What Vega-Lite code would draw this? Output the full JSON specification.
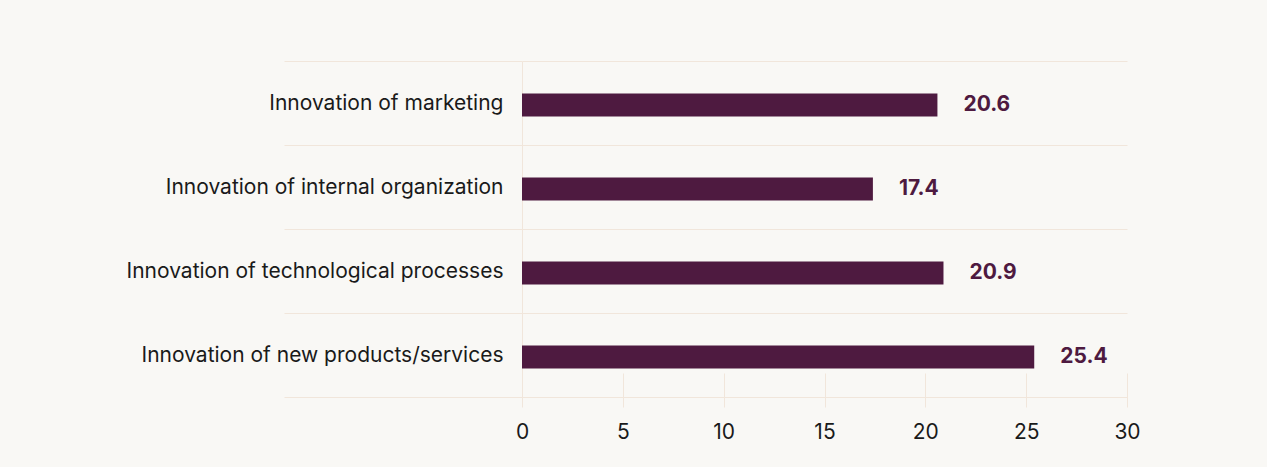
{
  "$schema": "https://vega.github.io/schema/vega-lite/v6.json",
  "width": 605,
  "height": 336,
  "autosize": {"type": "none"},
  "padding": {"left": 522, "top": 61, "right": 140, "bottom": 70},
  "background": "#f9f8f5",
  "config": {"view": {"stroke": null}, "font": "Inter"},
  "data": {
    "values": [
      {"category": "Innovation of marketing", "value": 20.6},
      {"category": "Innovation of internal organization", "value": 17.4},
      {"category": "Innovation of technological processes", "value": 20.9},
      {"category": "Innovation of new products/services", "value": 25.4}
    ]
  },
  "encoding": {
    "y": {
      "field": "category",
      "type": "nominal",
      "sort": null,
      "scale": {"paddingInner": 0, "paddingOuter": 0},
      "axis": {
        "title": null,
        "domain": true,
        "domainColor": "#f1e6db",
        "ticks": true,
        "tickBand": "extent",
        "tickSize": 238,
        "tickColor": "#f1e6db",
        "grid": true,
        "gridColor": "#f1e6db",
        "labelPadding": -219,
        "labelFontSize": 21,
        "labelColor": "#1a1a1a",
        "labelFont": "Inter",
        "labelLimit": 500
      }
    },
    "x": {
      "field": "value",
      "type": "quantitative",
      "scale": {"domain": [0, 30]},
      "axis": {
        "title": null,
        "values": [0, 5, 10, 15, 20, 25, 30],
        "grid": false,
        "domain": false,
        "tickSize": 34,
        "offset": -24,
        "tickColor": "#f1e6db",
        "labelFlush": false,
        "labelPadding": 14,
        "labelFontSize": 21,
        "labelColor": "#1a1a1a",
        "labelFont": "Inter"
      }
    }
  },
  "layer": [
    {
      "mark": {"type": "bar", "height": 23, "color": "#4e1a40", "yOffset": 2}
    },
    {
      "mark": {"type": "text", "align": "left", "baseline": "middle", "dx": 26, "yOffset": 2, "fontSize": 21, "fontWeight": "bold", "color": "#4e1a40", "font": "Inter"},
      "encoding": {"text": {"field": "value", "type": "quantitative", "format": ".1f"}}
    }
  ]
}
